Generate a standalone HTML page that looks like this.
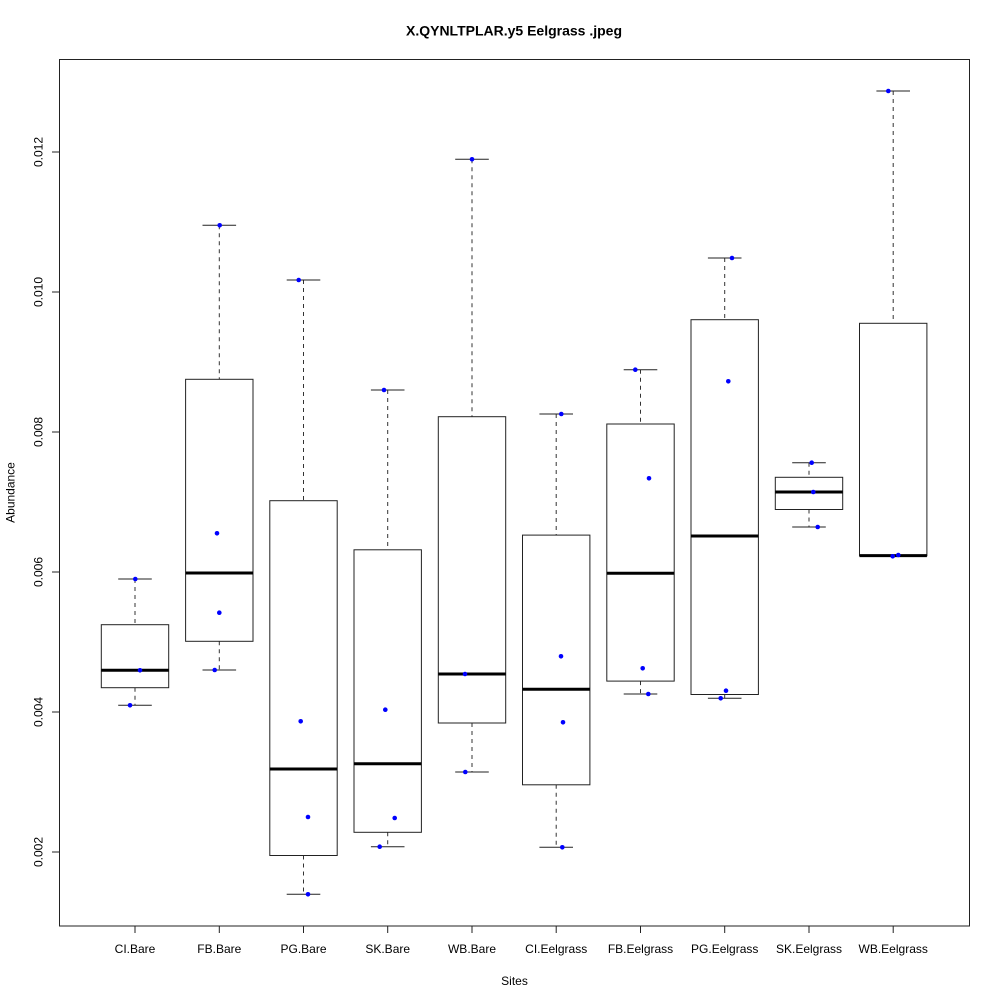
<!DOCTYPE html>
<html>
<head>
<meta charset="utf-8">
<style>
html,body{margin:0;padding:0;background:#fff;}
svg{display:block;}
text{font-family:"Liberation Sans",Arial,sans-serif;fill:#000;}
</style>
</head>
<body>
<svg width="1000" height="1000" viewBox="0 0 1000 1000" xmlns="http://www.w3.org/2000/svg">
<rect x="0" y="0" width="1000" height="1000" fill="#fff"/>
<!-- title -->
<text x="514" y="35.7" font-size="14" font-weight="bold" text-anchor="middle">X.QYNLTPLAR.y5 Eelgrass .jpeg</text>
<!-- axis titles -->
<text x="514.5" y="985" font-size="12" text-anchor="middle">Sites</text>
<text x="0" y="0" font-size="12" text-anchor="middle" transform="translate(14.5,492.5) rotate(-90)">Abundance</text>

<!-- plot box -->
<rect x="59.5" y="59.5" width="910" height="866.5" fill="none" stroke="#222" stroke-width="1"/>

<!-- y axis ticks -->
<g stroke="#222" stroke-width="1">
<line x1="52" y1="852" x2="59.5" y2="852"/>
<line x1="52" y1="712" x2="59.5" y2="712"/>
<line x1="52" y1="572" x2="59.5" y2="572"/>
<line x1="52" y1="432" x2="59.5" y2="432"/>
<line x1="52" y1="292" x2="59.5" y2="292"/>
<line x1="52" y1="152" x2="59.5" y2="152"/>
</g>
<g font-size="12" text-anchor="middle">
<text transform="translate(42.5,852) rotate(-90)">0.002</text>
<text transform="translate(42.5,712) rotate(-90)">0.004</text>
<text transform="translate(42.5,572) rotate(-90)">0.006</text>
<text transform="translate(42.5,432) rotate(-90)">0.008</text>
<text transform="translate(42.5,292) rotate(-90)">0.010</text>
<text transform="translate(42.5,152) rotate(-90)">0.012</text>
</g>

<!-- x axis ticks -->
<g stroke="#222" stroke-width="1">
<line x1="135" y1="926" x2="135" y2="933"/>
<line x1="219.3" y1="926" x2="219.3" y2="933"/>
<line x1="303.5" y1="926" x2="303.5" y2="933"/>
<line x1="387.7" y1="926" x2="387.7" y2="933"/>
<line x1="472" y1="926" x2="472" y2="933"/>
<line x1="556.2" y1="926" x2="556.2" y2="933"/>
<line x1="640.5" y1="926" x2="640.5" y2="933"/>
<line x1="724.7" y1="926" x2="724.7" y2="933"/>
<line x1="809" y1="926" x2="809" y2="933"/>
<line x1="893.2" y1="926" x2="893.2" y2="933"/>
</g>
<g font-size="12" text-anchor="middle">
<text x="135" y="953">CI.Bare</text>
<text x="219.3" y="953">FB.Bare</text>
<text x="303.5" y="953">PG.Bare</text>
<text x="387.7" y="953">SK.Bare</text>
<text x="472" y="953">WB.Bare</text>
<text x="556.2" y="953">CI.Eelgrass</text>
<text x="640.5" y="953">FB.Eelgrass</text>
<text x="724.7" y="953">PG.Eelgrass</text>
<text x="809" y="953">SK.Eelgrass</text>
<text x="893.2" y="953">WB.Eelgrass</text>
</g>

<!-- whiskers (dashed) -->
<g stroke="#333" stroke-width="1" stroke-dasharray="4,4" fill="none">
<line x1="135" y1="579" x2="135" y2="624.7"/><line x1="135" y1="687.7" x2="135" y2="705.3"/>
<line x1="219.3" y1="225.3" x2="219.3" y2="379.3"/><line x1="219.3" y1="641.3" x2="219.3" y2="670"/>
<line x1="303.5" y1="280" x2="303.5" y2="500.7"/><line x1="303.5" y1="855.5" x2="303.5" y2="894.3"/>
<line x1="387.7" y1="390" x2="387.7" y2="549.8"/><line x1="387.7" y1="832.3" x2="387.7" y2="846.7"/>
<line x1="472" y1="159.3" x2="472" y2="416.7"/><line x1="472" y1="723" x2="472" y2="772"/>
<line x1="556.2" y1="414" x2="556.2" y2="535.1"/><line x1="556.2" y1="784.8" x2="556.2" y2="847.3"/>
<line x1="640.5" y1="369.7" x2="640.5" y2="424"/><line x1="640.5" y1="681.1" x2="640.5" y2="694"/>
<line x1="724.7" y1="258" x2="724.7" y2="319.7"/><line x1="724.7" y1="694.5" x2="724.7" y2="698.3"/>
<line x1="809" y1="462.7" x2="809" y2="477.3"/><line x1="809" y1="509.5" x2="809" y2="527"/>
<line x1="893.2" y1="91" x2="893.2" y2="323.3"/>
</g>

<!-- whisker caps -->
<g stroke="#222" stroke-width="1">
<line x1="118.2" y1="579" x2="151.8" y2="579"/><line x1="118.2" y1="705.3" x2="151.8" y2="705.3"/>
<line x1="202.5" y1="225.3" x2="236.1" y2="225.3"/><line x1="202.5" y1="670" x2="236.1" y2="670"/>
<line x1="286.7" y1="280" x2="320.3" y2="280"/><line x1="286.7" y1="894.3" x2="320.3" y2="894.3"/>
<line x1="370.9" y1="390" x2="404.5" y2="390"/><line x1="370.9" y1="846.7" x2="404.5" y2="846.7"/>
<line x1="455.2" y1="159.3" x2="488.8" y2="159.3"/><line x1="455.2" y1="772" x2="488.8" y2="772"/>
<line x1="539.4" y1="414" x2="573" y2="414"/><line x1="539.4" y1="847.3" x2="573" y2="847.3"/>
<line x1="623.7" y1="369.7" x2="657.3" y2="369.7"/><line x1="623.7" y1="694" x2="657.3" y2="694"/>
<line x1="707.9" y1="258" x2="741.5" y2="258"/><line x1="707.9" y1="698.3" x2="741.5" y2="698.3"/>
<line x1="792.2" y1="462.7" x2="825.8" y2="462.7"/><line x1="792.2" y1="527" x2="825.8" y2="527"/>
<line x1="876.4" y1="91" x2="910" y2="91"/><line x1="876.4" y1="556" x2="910" y2="556"/>
</g>

<!-- boxes -->
<g stroke="#222" stroke-width="1" fill="none">
<rect x="101.3" y="624.7" width="67.4" height="63"/>
<rect x="185.6" y="379.3" width="67.4" height="262"/>
<rect x="269.8" y="500.7" width="67.4" height="354.8"/>
<rect x="354" y="549.8" width="67.4" height="282.5"/>
<rect x="438.3" y="416.7" width="67.4" height="306.3"/>
<rect x="522.5" y="535.1" width="67.4" height="249.7"/>
<rect x="606.8" y="424" width="67.4" height="257.1"/>
<rect x="691" y="319.7" width="67.4" height="374.8"/>
<rect x="775.3" y="477.3" width="67.4" height="32.2"/>
<rect x="859.5" y="323.3" width="67.4" height="232.5"/>
</g>

<!-- medians -->
<g stroke="#000" stroke-width="3">
<line x1="101.3" y1="670.3" x2="168.7" y2="670.3"/>
<line x1="185.6" y1="573" x2="253" y2="573"/>
<line x1="269.8" y1="769" x2="337.2" y2="769"/>
<line x1="354" y1="763.8" x2="421.4" y2="763.8"/>
<line x1="438.3" y1="674" x2="505.7" y2="674"/>
<line x1="522.5" y1="689.3" x2="589.9" y2="689.3"/>
<line x1="606.8" y1="573.3" x2="674.2" y2="573.3"/>
<line x1="691" y1="536" x2="758.4" y2="536"/>
<line x1="775.3" y1="492" x2="842.7" y2="492"/>
<line x1="859.5" y1="555.6" x2="926.9" y2="555.6"/>
</g>

<!-- points -->
<g fill="#0000ff">
<circle cx="135.3" cy="579" r="2.3"/><circle cx="140" cy="670.3" r="2.3"/><circle cx="130" cy="705.3" r="2.3"/>
<circle cx="219.7" cy="225.3" r="2.3"/><circle cx="217" cy="533.3" r="2.3"/><circle cx="219.3" cy="612.7" r="2.3"/><circle cx="214.7" cy="670" r="2.3"/>
<circle cx="298.7" cy="280" r="2.3"/><circle cx="300.7" cy="721.3" r="2.3"/><circle cx="308" cy="817" r="2.3"/><circle cx="308" cy="894.3" r="2.3"/>
<circle cx="384" cy="390" r="2.3"/><circle cx="385.3" cy="709.7" r="2.3"/><circle cx="394.7" cy="818" r="2.3"/><circle cx="379.7" cy="846.7" r="2.3"/>
<circle cx="472" cy="159.3" r="2.3"/><circle cx="465" cy="674" r="2.3"/><circle cx="465.3" cy="772" r="2.3"/>
<circle cx="561.3" cy="414" r="2.3"/><circle cx="561" cy="656.3" r="2.3"/><circle cx="563" cy="722.3" r="2.3"/><circle cx="562.3" cy="847.3" r="2.3"/>
<circle cx="635.3" cy="369.7" r="2.3"/><circle cx="649" cy="478.3" r="2.3"/><circle cx="642.7" cy="668.3" r="2.3"/><circle cx="648.3" cy="694" r="2.3"/>
<circle cx="732" cy="258" r="2.3"/><circle cx="728.3" cy="381.3" r="2.3"/><circle cx="726" cy="690.7" r="2.3"/><circle cx="720.7" cy="698.3" r="2.3"/>
<circle cx="811.7" cy="462.7" r="2.3"/><circle cx="813.3" cy="492" r="2.3"/><circle cx="817.7" cy="527" r="2.3"/>
<circle cx="888.3" cy="91" r="2.3"/><circle cx="892.7" cy="556.3" r="2.3"/><circle cx="898.3" cy="555" r="2.3"/>
</g>
</svg>
</body>
</html>
